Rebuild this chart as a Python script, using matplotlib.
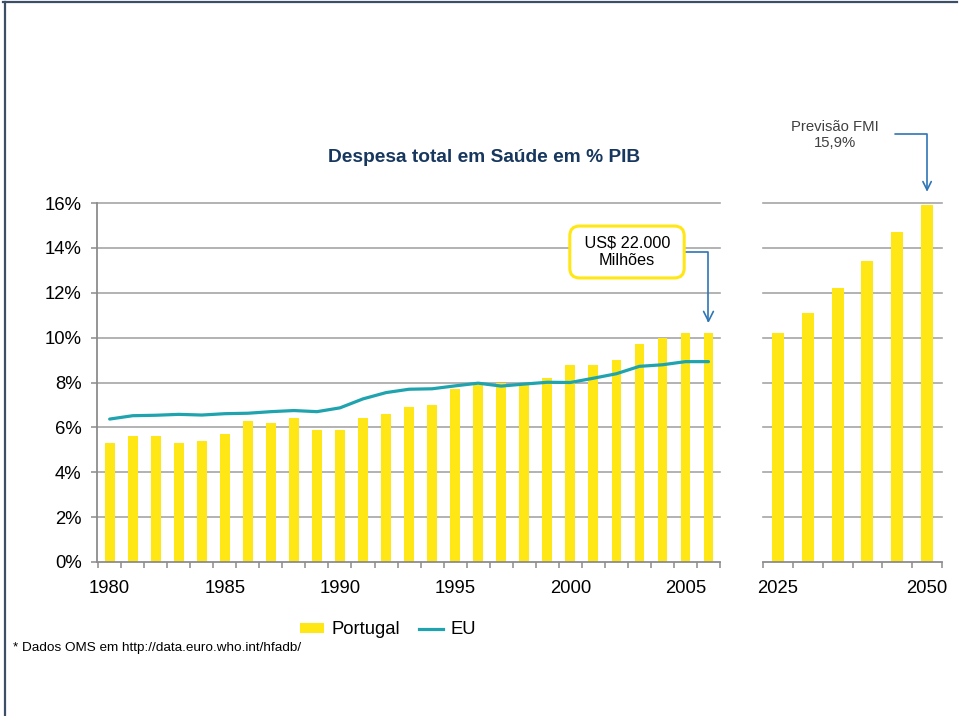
import matplotlib
matplotlib.use("Agg")
import matplotlib.pyplot as plt
from matplotlib.lines import Line2D
from matplotlib.patches import Patch

plt.rcParams['font.family'] = ['Liberation Sans', 'DejaVu Sans']

# ---------------- data ----------------
years = list(range(1980, 2007))
portugal = [5.3, 5.6, 5.6, 5.3, 5.4, 5.7, 6.3, 6.2, 6.4, 5.9, 5.9, 6.4, 6.6, 6.9,
            7.0, 7.7, 7.9, 8.0, 7.9, 8.2, 8.8, 8.8, 9.0, 9.7, 10.0, 10.2, 10.2]
eu = [6.37, 6.52, 6.54, 6.58, 6.55, 6.61, 6.63, 6.70, 6.75, 6.70, 6.87, 7.27, 7.55, 7.70,
      7.72, 7.85, 7.97, 7.84, 7.93, 8.01, 8.00, 8.19, 8.39, 8.72, 8.79, 8.93, 8.93]
proj_years = [2025, 2030, 2035, 2040, 2045, 2050]
proj_values = [10.2, 11.1, 12.2, 13.4, 14.7, 15.9]
left_xlabels = [1980, 1985, 1990, 1995, 2000, 2005]
right_xlabels = [2025, 2050]
yticks = [0, 2, 4, 6, 8, 10, 12, 14, 16]

title = "Despesa total em Saúde em % PIB"
note = "* Dados OMS em http://data.euro.who.int/hfadb/"

YELLOW = "#FFE715"
TEAL = "#1FA3AE"
GRID = "#A6A6A6"
SPINE = "#8C8C8C"
ARROW = "#2E75B6"

W, H = 960, 716
fig = plt.figure(figsize=(W / 100, H / 100), dpi=100)
fig.patch.set_facecolor("white")

def fx(px):
    return px / W

def fy(py):
    return 1 - py / H

# ---------------- left axes ----------------
axL = fig.add_axes([fx(97), fy(562), fx(720) - fx(97), fy(203) - fy(562)])
bars = axL.bar(years, portugal, width=0.42, color=YELLOW, zorder=2, label="Portugal")
line, = axL.plot(years, eu, color=TEAL, lw=2.3, zorder=3, label="EU",
                 solid_capstyle="round")
axL.set_xlim(1979.45, 2006.5)
axL.set_ylim(0, 16)
axL.set_yticks(yticks)
axL.set_yticklabels([f"{v}%" for v in yticks])
for v in yticks[1:]:
    axL.axhline(v, color=GRID, lw=1.2, zorder=1, clip_on=False)
axL.set_xticks(left_xlabels)
axL.set_xticklabels([str(v) for v in left_xlabels])
axL.set_xticks([y - 0.5 for y in years] + [2006.5], minor=True)
axL.tick_params(axis="x", which="major", length=0, pad=13, labelsize=13.3)
axL.tick_params(axis="x", which="minor", length=4, color=SPINE, width=1.1)
axL.tick_params(axis="y", length=4, color=SPINE, width=1.1, pad=7, labelsize=13.3)
for s in ("top", "right"):
    axL.spines[s].set_visible(False)
for s in ("left", "bottom"):
    axL.spines[s].set_color(SPINE)
    axL.spines[s].set_linewidth(1.3)
axL.patch.set_alpha(0)

# ---------------- right axes ----------------
axR = fig.add_axes([fx(763), fy(562), fx(942) - fx(763), fy(203) - fy(562)])
axR.bar(proj_years, proj_values, width=2.0, color=YELLOW, zorder=2)
axR.set_xlim(2022.5, 2052.5)
axR.set_ylim(0, 16)
for v in yticks[1:]:
    axR.axhline(v, color=GRID, lw=1.2, zorder=1, clip_on=False)
axR.set_yticks([])
axR.set_xticks(right_xlabels)
axR.set_xticklabels([str(v) for v in right_xlabels])
axR.set_xticks([y - 2.5 for y in proj_years] + [2052.5], minor=True)
axR.tick_params(axis="x", which="major", length=0, pad=13, labelsize=13.3)
axR.tick_params(axis="x", which="minor", length=4, color=SPINE, width=1.1)
for s in ("top", "right", "left"):
    axR.spines[s].set_visible(False)
axR.spines["bottom"].set_color(SPINE)
axR.spines["bottom"].set_linewidth(1.3)
axR.patch.set_alpha(0)

# ---------------- title, legend, note ----------------
fig.text(fx(484.5), fy(158), title, ha="center", va="center", fontsize=13.8,
         fontweight="bold", color="#17375E")

leg_handles = [Patch(facecolor=YELLOW, edgecolor="none"),
               Line2D([], [], color=TEAL, lw=2.3)]
fig.legend(leg_handles, ["Portugal", "EU"], loc="center",
           bbox_to_anchor=(fx(388), fy(630)), ncol=2, frameon=False,
           fontsize=13.3, handlelength=1.3, handleheight=0.5, handletextpad=0.4,
           columnspacing=1.0, borderpad=0)

fig.text(fx(13), fy(648), note, ha="left", va="center", fontsize=9.7, color="black")

# ---------------- annotations ----------------
axL.annotate(" US$ 22.000 \nMilhões", xy=(2006, 10.65), xycoords="data",
             xytext=(fx(627), fy(252)), textcoords="figure fraction",
             ha="center", va="center", fontsize=11.7, color="black",
             bbox=dict(boxstyle="round,pad=0.6,rounding_size=0.6", fc="white",
                       ec=YELLOW, lw=2.2),
             arrowprops=dict(arrowstyle="->,head_length=0.6,head_width=0.3",
                             color=ARROW, lw=1.2, shrinkA=0, shrinkB=0,
                             connectionstyle="angle,angleA=0,angleB=90,rad=0"),
             annotation_clip=False, zorder=5)

fig.text(fx(835), fy(135), "Previsão FMI\n15,9%", ha="center", va="center",
         fontsize=10.7, color="#404040", linespacing=1.25)
axR.annotate("", xy=(2050, 16.5), xycoords="data",
             xytext=(fx(895), fy(134)), textcoords="figure fraction",
             arrowprops=dict(arrowstyle="->,head_length=0.6,head_width=0.3",
                             color=ARROW, lw=1.2, shrinkA=0, shrinkB=0,
                             connectionstyle="angle,angleA=0,angleB=90,rad=0"),
             annotation_clip=False)

# ---------------- frame lines ----------------
fig.add_artist(Line2D([fx(3), fx(957)], [fy(2), fy(2)], color="#3D4F66", lw=1.6))
fig.add_artist(Line2D([fx(5), fx(5)], [fy(2), fy(716)], color="#3D4F66", lw=1.6))

fig.savefig("out.png", dpi=100)
